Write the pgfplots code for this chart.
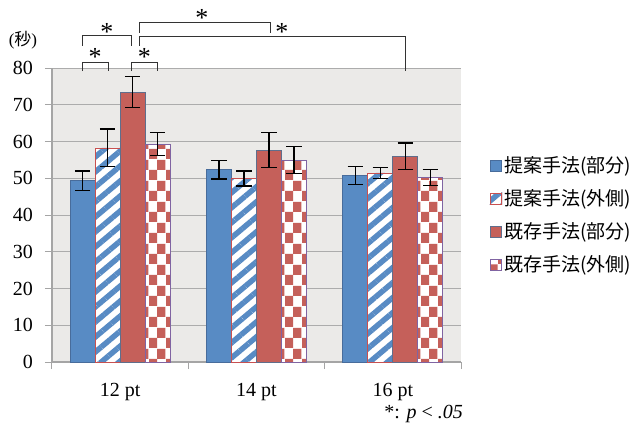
\documentclass[border=0pt]{standalone}
\usepackage{fontspec}
\setmainfont{Liberation Serif}
\newfontfamily\cjk{Noto Sans CJK JP}
\usepackage{pgfplots}
\pgfplotsset{compat=1.18}
\usetikzlibrary{patterns.meta}

\definecolor{mblue}{RGB}{88,139,196}
\definecolor{mred}{RGB}{197,96,90}
\definecolor{bgc}{RGB}{235,234,232}
\definecolor{gridc}{RGB}{172,172,172}
\definecolor{axc}{RGB}{165,165,165}
\definecolor{bluedge}{RGB}{72,108,155}
\definecolor{redbaredge}{RGB}{95,110,140}
\definecolor{rededge}{RGB}{200,80,80}
\definecolor{purpedge}{RGB}{128,100,162}

\tikzdeclarepattern{
  name=bigcheck,
  type=uncolored,
  bounding box={(0bp,0bp) and (16.6bp,21bp)},
  tile size={(16.6bp,21bp)},
  code={
    \pgfpathrectangle{\pgfpointorigin}{\pgfqpoint{8.4bp}{10.6bp}}
    \pgfpathrectangle{\pgfqpoint{8.3bp}{10.5bp}}{\pgfqpoint{8.4bp}{10.6bp}}
    \pgfusepath{fill}
  }
}

\newcommand{\bigf}{\fontsize{20bp}{24bp}\selectfont}
\newcommand{\astf}{\fontsize{26bp}{28bp}\selectfont}

\begin{document}
\begin{tikzpicture}
\useasboundingbox (-52bp,-70bp) rectangle (585bp,362bp);
\begin{axis}[
  at={(0,0)}, anchor=south west,
  scale only axis, width=409bp, height=294bp,
  xmin=-0.5, xmax=2.5, ymin=0, ymax=80,
  ybar=0pt, bar width=0.1834,
  axis lines=left,
  axis line style={-, draw=axc, line width=1.2bp},
  axis background/.style={fill=bgc},
  ymajorgrids, grid style={gridc, line width=1bp},
  ytick={0,10,...,80},
  xtick={0,1,2},
  xticklabels={12 pt, 14 pt, 16 pt},
  minor xtick={-0.5,0.5,1.5,2.5},
  tick align=outside,
  major tick length=7bp, minor tick length=7bp,
  tick style={draw=axc, line width=1bp},
  major x tick style={draw=none},
  ticklabel style={font=\bigf},
  /pgf/number format/assume math mode=true,
  yticklabel style={inner sep=0pt, xshift=-12bp},
  xticklabel style={inner sep=0pt, yshift=-14bp},
  clip=false,
  legend cell align=left,
  legend style={at={(rel axis cs:1.071,0.705)}, anchor=north west,
    draw=none, fill=none, inner sep=0pt,
    font=\cjk\fontsize{19bp}{20bp}\selectfont,
    row sep=11.5bp,
    /tikz/every even column/.append style={column sep=1bp}},
  error bars/y dir=both, error bars/y explicit,
  error bars/error bar style={black, line width=1.2bp, solid},
  error bars/error mark options={black, line width=1.2bp, mark size=7.8bp, rotate=90},
]
\addplot[fill=mblue, draw=bluedge, line width=0.8bp,
  legend image code/.code={\draw[fill=mblue, draw=bluedge, line width=0.8bp] (0bp,-5.5bp) rectangle (11bp,5.5bp);}]
  coordinates {(0,49.35) +- (0,2.65) (1,52.3) +- (0,2.5) (2,50.8) +- (0,2.5)};
\addlegendentry{提案手法(部分)}
\addplot[preaction={fill=white}, pattern={Lines[angle=40,distance=11.5bp,line width=5.5bp]}, pattern color=mblue, draw=rededge, line width=0.8bp,
  legend image code/.code={\fill[white] (0bp,-5.5bp) rectangle (11bp,5.5bp);
    \fill[mblue] (0bp,-5.5bp) -- (11bp,-5.5bp) -- (11bp,5.5bp) -- cycle;
    \draw[draw=rededge, line width=0.8bp] (0bp,-5.5bp) rectangle (11bp,5.5bp);}]
  coordinates {(0,58.25) +- (0,5.15) (1,49.95) +- (0,2.05) (2,51.45) +- (0,1.45)};
\addlegendentry{提案手法(外側)}
\addplot[fill=mred, draw=redbaredge, line width=0.8bp,
  legend image code/.code={\draw[fill=mred, draw=redbaredge, line width=0.8bp] (0bp,-5.5bp) rectangle (11bp,5.5bp);}]
  coordinates {(0,73.45) +- (0,4.15) (1,57.65) +- (0,4.75) (2,56.0) +- (0,3.6)};
\addlegendentry{既存手法(部分)}
\addplot[preaction={fill=white}, pattern=bigcheck, pattern color=mred, draw=purpedge, line width=0.8bp,
  legend image code/.code={\fill[white] (0bp,-5.5bp) rectangle (11bp,5.5bp);
    \fill[mred] (5.5bp,-5.5bp) rectangle (11bp,0bp);
    \draw[draw=purpedge, line width=0.8bp] (0bp,-5.5bp) rectangle (11bp,5.5bp);}]
  coordinates {(0,59.25) +- (0,3.15) (1,54.9) +- (0,3.7) (2,50.25) +- (0,2.15)};
\addlegendentry{既存手法(外側)}

% significance brackets
\draw[black!80, line width=1bp] (axis cs:-0.274,79.18) |- (axis cs:-0.083,81.63) -- (axis cs:-0.083,79.18);
\draw[black!80, line width=1bp] (axis cs:0.086,79.18) |- (axis cs:0.274,81.63) -- (axis cs:0.274,79.18);
\draw[black!80, line width=1bp] (axis cs:-0.274,85.99) |- (axis cs:0.086,88.71) -- (axis cs:0.086,85.99);
\draw[black!80, line width=1bp] (axis cs:0.142,89.61) |- (axis cs:1.10,92.33) -- (axis cs:1.10,89.61);
\draw[black!80, line width=1bp] (axis cs:0.142,85.99) |- (axis cs:2.093,88.52) -- (axis cs:2.093,79.18);
\node[anchor=base, inner sep=0pt, font=\astf] at (axis cs:-0.183,80.7) {*};
\node[anchor=base, inner sep=0pt, font=\astf] at (axis cs:0.178,80.7) {*};
\node[anchor=base, inner sep=0pt, font=\astf] at (axis cs:-0.098,87.5) {*};
\node[anchor=base, inner sep=0pt, font=\astf] at (axis cs:0.599,91.3) {*};
\node[anchor=base, inner sep=0pt, font=\astf] at (axis cs:1.186,87.5) {*};
\end{axis}
\node[inner sep=0pt] at (-29bp,322bp) {\fontsize{17bp}{20bp}\selectfont(\cjk 秒\normalfont)};
\node[anchor=east, inner sep=0pt] at (411bp,-52bp) {\bigf *: \textit{p} < \textit{.05}};
\end{tikzpicture}
\end{document}
